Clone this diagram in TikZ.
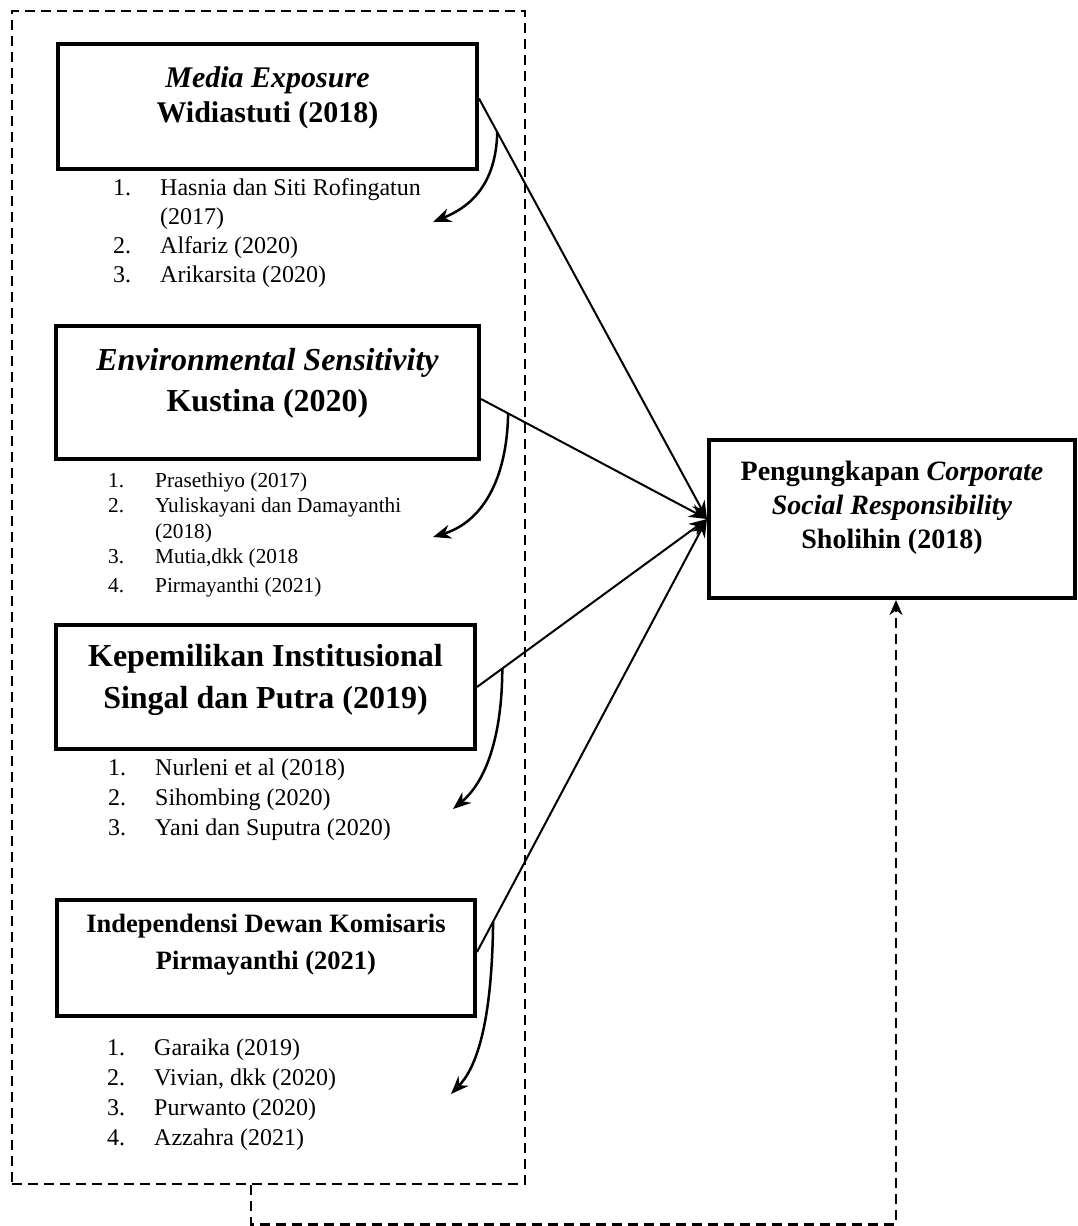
\documentclass[tikz,border=0pt]{standalone}
\usepackage{fontspec}
\setmainfont{Liberation Serif}
\usetikzlibrary{positioning,arrows.meta}
\newcommand{\nomor}[1]{\makebox[47pt][l]{#1}}

\begin{document}
\begin{tikzpicture}[x=1pt,y=-1pt,>={Stealth[length=18pt,width=14pt]},
  var node/.style={draw,line width=4pt,inner sep=0pt},
  title node/.style={anchor=north,align=center,inner sep=0pt},
  list node/.style={anchor=north west,align=left,inner sep=0pt},
  group node/.style={draw,line width=2.5pt,dash pattern=on 10pt off 6pt,inner sep=0pt}]
  \useasboundingbox (0,0) rectangle (1077,1226);
  \node[group node,minimum width=513pt,minimum height=1173pt] (grp) at (268.5,597.5) {};
  % variabel X1
  \node[var node,minimum width=419pt,minimum height=125pt] (media) at (267.5,106.5) {};
  \node[title node,font={\fontsize{30}{35}\selectfont\bfseries}] (mediaT) at ([yshift=-24pt]media.north)
    {\textit{Media Exposure}\\Widiastuti (2018)};
  \node[list node,font={\fontsize{24}{29}\selectfont}] (mediaL) at (113,178.6)
    {\nomor{1.}Hasnia dan Siti Rofingatun\\\nomor{}(2017)\\\nomor{2.}Alfariz (2020)\\\nomor{3.}Arikarsita (2020)};
  % variabel X2
  \node[var node,minimum width=423pt,minimum height=133pt] (env) at (267.5,392.5) {};
  \node[title node,font={\fontsize{32}{41}\selectfont\bfseries}] (envT) at ([yshift=-24pt]env.north)
    {\textit{Environmental Sensitivity}\\Kustina (2020)};
  \node[list node,font={\fontsize{21.3}{25.5}\selectfont}] (envL) at (108,472.3)
    {\nomor{1.}Prasethiyo (2017)\\\nomor{2.}Yuliskayani dan Damayanthi\\\nomor{}(2018)\\\nomor{3.}Mutia,dkk (2018\\[3.5pt]\nomor{4.}Pirmayanthi (2021)};
  % variabel X3
  \node[var node,minimum width=419pt,minimum height=124pt] (inst) at (265.5,687) {};
  \node[title node,font={\fontsize{32}{42}\selectfont\bfseries}] (instT) at ([yshift=-21pt]inst.north)
    {Kepemilikan Institusional\\Singal dan Putra (2019)};
  \node[list node,font={\fontsize{24}{30}\selectfont}] (instL) at (108,758.4)
    {\nomor{1.}Nurleni et al (2018)\\\nomor{2.}Sihombing (2020)\\\nomor{3.}Yani dan Suputra (2020)};
  % variabel X4
  \node[var node,minimum width=418pt,minimum height=116pt] (indep) at (266,958) {};
  \node[title node,font={\fontsize{26.5}{37}\selectfont\bfseries}] (indepT) at ([yshift=-16pt]indep.north)
    {Independensi Dewan Komisaris\\Pirmayanthi (2021)};
  \node[list node,font={\fontsize{24}{30}\selectfont}] (indepL) at (107,1038.4)
    {\nomor{1.}Garaika (2019)\\\nomor{2.}Vivian, dkk (2020)\\\nomor{3.}Purwanto (2020)\\\nomor{4.}Azzahra (2021)};
  % variabel Y
  \node[var node,minimum width=366pt,minimum height=158pt] (csr) at (892,519) {};
  \node[title node,font={\fontsize{28}{34}\selectfont\bfseries}] (csrT) at ([yshift=-23pt]csr.north)
    {Pengungkapan \textit{Corporate}\\\textit{Social Responsibility}\\Sholihin (2018)};
  % ujung panah rujukan
  \coordinate (t1) at (433,222);
  \coordinate (t2) at (433,537);
  \coordinate (t3) at (453,809);
  \coordinate (t4) at (451,1094);

  \path[->,line width=2pt]
    ([yshift=8pt]media.east)  edge node[coordinate,pos=0.08] (k1) {} (csr.west)
    ([yshift=-6.5pt]env.east) edge node[coordinate,pos=0.12] (k2) {} (csr.west)
    (inst.east)               edge node[coordinate,pos=0.11] (k3) {} (csr.west)
    ([yshift=6pt]indep.east)  edge node[coordinate,pos=0.07] (k4) {} (csr.west);
  \draw[->,line width=2.5pt] (k1) .. controls (496,185) and (470,207) .. (t1);
  \draw[->,line width=2.5pt] (k2) .. controls (507,480) and (482,522) .. (t2);
  \draw[->,line width=2.5pt] (k3) .. controls (502,745) and (482,785) .. (t3);
  \draw[->,line width=2.5pt] (k4) .. controls (492,1025) and (476,1068) .. (t4);
  \draw[->,line width=2.5pt,dash pattern=on 10pt off 6pt,>={Stealth[length=15pt,width=13pt]}]
    ([xshift=-17.5pt]grp.south) -- ++(0,39) -| ([xshift=4pt]csr.south);
\end{tikzpicture}
\end{document}
